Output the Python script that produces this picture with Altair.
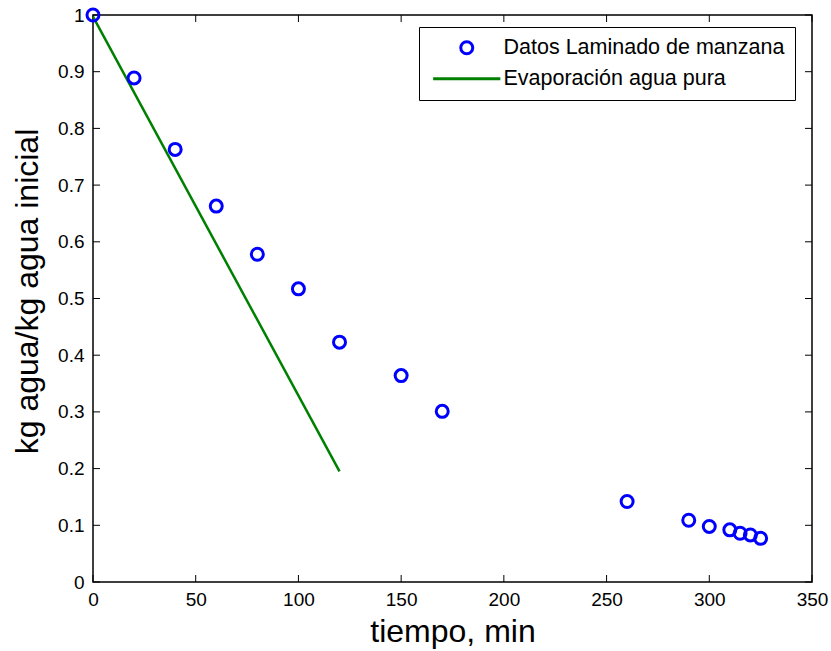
import altair as alt
import pandas as pd

# ---- data ----
tiempo = [0, 20, 40, 60, 80, 100, 120, 150, 170, 260, 290, 300, 310, 315, 320, 325]
humedad = [1.0, 0.889, 0.763, 0.663, 0.578, 0.517, 0.423, 0.364, 0.301,
           0.142, 0.109, 0.098, 0.092, 0.086, 0.083, 0.077]
tiempo_agua = [0, 120]
humedad_agua = [0.997, 0.195]
series = ["Datos Laminado de manzana", "Evaporación agua pura"]
x_ticks = [0, 50, 100, 150, 200, 250, 300, 350]
y_ticks = [0, 0.1, 0.2, 0.3, 0.4, 0.5, 0.6, 0.7, 0.8, 0.9, 1.0]

df_pts = pd.DataFrame({"t": tiempo, "h": humedad, "serie": series[0]})
df_line = pd.DataFrame({"t": tiempo_agua, "h": humedad_agua, "serie": series[1]})
df_xt = pd.DataFrame({"v": x_ticks})
df_yt = pd.DataFrame({"v": y_ticks})

FONT = "Liberation Sans"
x_scale = alt.Scale(domain=[0, 350], nice=False, zero=False)
y_scale = alt.Scale(domain=[0, 1], nice=False, zero=False)
x_axis = alt.Axis(title="tiempo, min", values=x_ticks, labelPadding=8, titlePadding=7,
                  labelFlush=False, labelOverlap=False)
y_axis = alt.Axis(title="kg agua/kg agua inicial", values=y_ticks, format=".1~f",
                  labelPadding=9, titlePadding=13, titleY=276,
                  labelFlush=False, labelOverlap=False)

color = alt.Color("serie:N",
                  scale=alt.Scale(domain=series, range=["#0000ff", "#008000"]),
                  legend=alt.Legend(orient="none", legendX=326, legendY=12, title=None,
                                    labelFont=FONT, labelFontSize=21.5, labelColor="black",
                                    labelLimit=600, symbolSize=144, symbolStrokeWidth=3,
                                    strokeColor="black", fillColor="white",
                                    padding=10, rowPadding=7,
                                    symbolOffset=27, labelOffset=26))

line = alt.Chart(df_line).mark_line(strokeWidth=2.5).encode(
    x=alt.X("t:Q", scale=x_scale, axis=x_axis),
    y=alt.Y("h:Q", scale=y_scale, axis=y_axis),
    color=color,
)

pts = alt.Chart(df_pts).mark_point(filled=False, size=144, strokeWidth=3, opacity=1).encode(
    x=alt.X("t:Q", scale=x_scale, axis=x_axis),
    y=alt.Y("h:Q", scale=y_scale, axis=y_axis),
    color=color,
    shape=alt.Shape("serie:N",
                    scale=alt.Scale(domain=series, range=["circle", "M-5.6,0H5.6"])),
)

TL = 7
bottom_ticks = alt.Chart(df_xt).mark_rule(color="black", strokeWidth=1, y2Offset=-TL).encode(
    x=alt.X("v:Q", scale=x_scale, axis=x_axis), y=alt.datum(0), y2=alt.datum(0))
top_ticks = alt.Chart(df_xt).mark_rule(color="black", strokeWidth=1, y2Offset=TL).encode(
    x=alt.X("v:Q", scale=x_scale, axis=x_axis), y=alt.datum(1), y2=alt.datum(1))
left_ticks = alt.Chart(df_yt).mark_rule(color="black", strokeWidth=1, x2Offset=TL).encode(
    y=alt.Y("v:Q", scale=y_scale, axis=y_axis), x=alt.datum(0), x2=alt.datum(0))
right_ticks = alt.Chart(df_yt).mark_rule(color="black", strokeWidth=1, x2Offset=-TL).encode(
    y=alt.Y("v:Q", scale=y_scale, axis=y_axis), x=alt.datum(350), x2=alt.datum(350))

chart = alt.layer(bottom_ticks, top_ticks, left_ticks, right_ticks, line, pts).properties(
    width=719, height=567,
    autosize="none",
    padding={"left": 93, "top": 15, "right": 19, "bottom": 69},
    background="white",
).configure_view(
    stroke="black", strokeWidth=1.5
).configure_axis(
    domain=False, ticks=False, grid=False,
    labelFont=FONT, labelFontSize=19, labelColor="black",
    titleFont=FONT, titleFontSize=32, titleFontWeight="normal", titleColor="black",
)

chart.save("out.html", embed_options={"renderer": "svg", "actions": False})
